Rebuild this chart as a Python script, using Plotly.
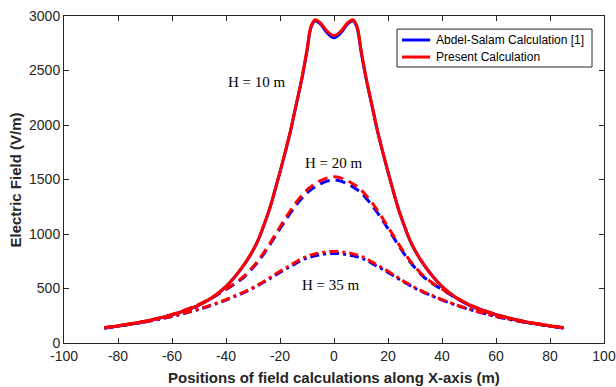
import plotly.graph_objects as go

# Positions along X-axis (m)
x_pos = [-85, -80, -75, -70, -65, -60, -55, -50, -45, -40, -36, -33, -30, -28, -26, -24, -22, -20,
         -18, -16, -14, -12, -10, -8.5, -7, -5, -2.5, 0, 2.5, 5, 7, 8.5, 10, 12, 14, 16, 18, 20,
         22, 24, 26, 28, 30, 33, 36, 40, 45, 50, 55, 60, 65, 70, 75, 80, 85]

# H = 10 m
h10_present = [140, 158, 178, 200, 228, 260, 300, 350, 420, 520, 630, 730, 850, 950, 1080, 1220, 1390, 1570,
               1760, 1960, 2190, 2420, 2690, 2905, 2965, 2935, 2860, 2820, 2860, 2935, 2965, 2905, 2690, 2420, 2190, 1960, 1760, 1570,
               1390, 1220, 1080, 950, 850, 730, 630, 520, 420, 350, 300, 260, 228, 200, 178, 158, 140]
h10_abdel = [138, 156, 176, 198, 226, 258, 298, 348, 418, 518, 628, 728, 848, 948, 1078, 1218, 1388, 1568,
             1755, 1955, 2185, 2410, 2680, 2895, 2955, 2925, 2845, 2800, 2845, 2925, 2955, 2895, 2680, 2410, 2185, 1955, 1755, 1568,
             1388, 1218, 1078, 948, 848, 728, 628, 518, 418, 348, 298, 258, 226, 198, 176, 156, 138]

# H = 20 m
h20_present = [140, 157, 177, 200, 228, 262, 305, 355, 420, 495, 560, 620, 700, 760, 830, 905, 985, 1065,
               1145, 1220, 1290, 1350, 1405, 1435, 1460, 1490, 1515, 1525, 1515, 1490, 1460, 1435, 1405, 1350, 1290, 1220, 1145, 1065,
               985, 905, 830, 760, 700, 620, 560, 495, 420, 355, 305, 262, 228, 200, 177, 157, 140]
h20_abdel = [138, 155, 175, 198, 226, 260, 302, 352, 416, 490, 553, 612, 690, 750, 818, 892, 970, 1048,
             1125, 1198, 1265, 1325, 1378, 1408, 1432, 1460, 1485, 1495, 1485, 1460, 1432, 1408, 1378, 1325, 1265, 1198, 1125, 1048,
             970, 892, 818, 750, 690, 612, 553, 490, 416, 352, 302, 260, 226, 198, 175, 155, 138]

# H = 35 m
h35_present = [140, 157, 175, 195, 218, 245, 276, 312, 352, 398, 440, 472, 508, 537, 565, 595, 626, 658,
               688, 715, 745, 775, 795, 808, 818, 828, 837, 840, 837, 828, 818, 808, 795, 775, 745, 715, 688, 658,
               626, 595, 565, 537, 508, 472, 440, 398, 352, 312, 276, 245, 218, 195, 175, 157, 140]
h35_abdel = [138, 155, 173, 193, 216, 243, 274, 309, 349, 394, 435, 467, 502, 530, 558, 587, 617, 648,
             677, 703, 733, 760, 779, 791, 800, 810, 819, 822, 819, 810, 800, 791, 779, 760, 733, 703, 677, 648,
             617, 587, 558, 530, 502, 467, 435, 394, 349, 309, 274, 243, 216, 193, 173, 155, 138]

x_ticks = [-100, -80, -60, -40, -20, 0, 20, 40, 60, 80, 100]
y_ticks = [0, 500, 1000, 1500, 2000, 2500, 3000]

labels = [("H = 10 m", -28.6, 2395), ("H = 20 m", 0, 1651), ("H = 35 m", -1, 532)]
legend_names = ["Abdel-Salam Calculation [1]", "Present Calculation"]
x_title = "Positions of field calculations along X-axis (m)"
y_title = "Electric Field (V/m)"

BLUE = "#0000FF"
RED = "#FF0000"
DASH = "10px,6px"
DASHDOT = "9px,4px,3px,4px"

fig = go.Figure()

series = [
    (h10_abdel, h10_present, "solid"),
    (h20_abdel, h20_present, DASH),
    (h35_abdel, h35_present, DASHDOT),
]

for ab, pr, dash in series:
    fig.add_trace(go.Scatter(x=x_pos, y=ab, mode="lines", line=dict(color=BLUE, width=3, dash=dash, shape="spline"),
                             name=legend_names[0], showlegend=False))
for ab, pr, dash in series:
    fig.add_trace(go.Scatter(x=x_pos, y=pr, mode="lines", line=dict(color=RED, width=3, dash=dash, shape="spline"),
                             name=legend_names[1], showlegend=False))

for txt, xx, yy in labels:
    fig.add_annotation(x=xx, y=yy, text=txt, showarrow=False, xref="x", yref="y",
                       font=dict(family="Liberation Serif", size=15, color="black"))

# Legend box (MATLAB style)
fig.add_shape(type="rect", xref="paper", yref="paper", x0=0.6167, x1=0.9778, y0=0.844, y1=0.960,
              line=dict(color="#262626", width=1), fillcolor="white", layer="above")
for name, col, yy in [(legend_names[0], BLUE, 0.9266), (legend_names[1], RED, 0.8746)]:
    fig.add_shape(type="line", xref="paper", yref="paper", x0=0.626, x1=0.678, y0=yy, y1=yy,
                  line=dict(color=col, width=3), layer="above")
    fig.add_annotation(x=0.685, y=yy, xref="paper", yref="paper", text=name, showarrow=False,
                       xanchor="left", yanchor="middle",
                       font=dict(family="Liberation Sans", size=12, color="black"))

# Axis titles
fig.add_annotation(x=0.5, y=-0.104, xref="paper", yref="paper", text="<b>" + x_title + "</b>",
                   showarrow=False, xanchor="center", yanchor="middle",
                   font=dict(family="Liberation Sans", size=15, color="#262626"))
fig.add_annotation(x=-0.0889, y=0.5, xref="paper", yref="paper", text="<b>" + y_title + "</b>",
                   showarrow=False, xanchor="center", yanchor="middle", textangle=-90,
                   font=dict(family="Liberation Sans", size=15, color="#262626"))

axis_common = dict(showline=True, linecolor="#262626", linewidth=1, mirror="ticks", ticks="inside",
                   ticklen=5, tickcolor="#262626", showgrid=False, zeroline=False, automargin=False,
                   tickfont=dict(family="Liberation Sans", size=14, color="#262626"))

fig.update_xaxes(range=[-100, 100], tickvals=x_ticks, ticktext=[str(v) for v in x_ticks], **axis_common)
fig.update_yaxes(range=[0, 3000], tickvals=y_ticks, ticktext=[str(v) for v in y_ticks], **axis_common)

fig.update_layout(
    width=616, height=387,
    margin=dict(l=64, r=12, t=16, b=44),
    paper_bgcolor="white", plot_bgcolor="white",
    showlegend=False,
)

fig.write_html("out.html")
